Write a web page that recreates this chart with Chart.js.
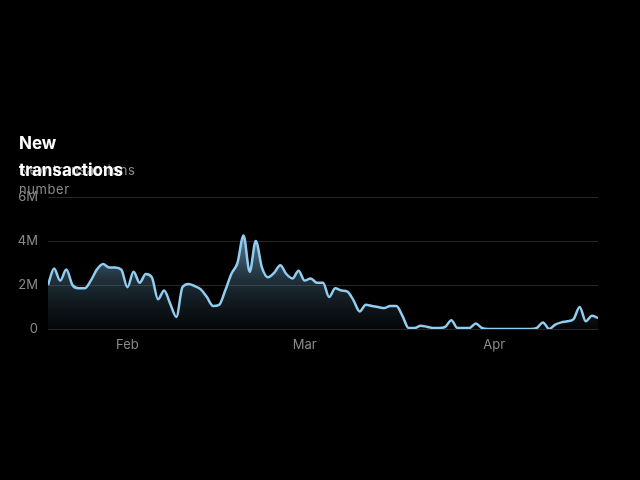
<!DOCTYPE html>
<html>
<head>
<meta charset="utf-8">
<script src="https://cdn.jsdelivr.net/npm/chart.js@4"></script>
<style>
  html, body { margin: 0; padding: 0; background: #000; }
  #wrap { position: relative; width: 640px; height: 480px; }
  #chart { position: absolute; left: 0; top: 0; }
  .title {
    position: absolute; left: 19px; top: 130px;
    font-family: Inter, "Noto Sans", sans-serif; font-weight: 700;
    font-size: 17px; line-height: 27px; color: #fff; z-index: 2;
  }
  .subtitle {
    position: absolute; left: 19px; top: 161px;
    font-family: Inter, "Noto Sans", sans-serif; font-size: 13px;
    line-height: 19px; color: #8a8a8a; letter-spacing: 0.6px; z-index: 1;
  }
</style>
</head>
<body>
<div id="wrap">
  <canvas id="chart" width="640" height="480"></canvas>
  <div class="title">New<br>transactions</div>
  <div class="subtitle">New transactions<br>number</div>
</div>
<script>
// day index 0 = Jan 19, one value per day up to Apr 18 (millions)
const dailyValues = [
  2.0, 2.75, 2.2, 2.7, 2.0, 1.85, 1.85, 2.2, 2.7, 2.95,
  2.8, 2.8, 2.7, 1.9, 2.6, 2.1, 2.5, 2.35, 1.35, 1.75,
  1.15, 0.55, 1.9, 2.05, 1.95, 1.8, 1.45, 1.05, 1.1, 1.75,
  2.5, 3.0, 4.25, 2.6, 4.0, 2.8, 2.35, 2.55, 2.9, 2.5,
  2.3, 2.65, 2.2, 2.3, 2.1, 2.1, 1.45, 1.85, 1.75, 1.7,
  1.3, 0.8, 1.1, 1.05, 1.0, 0.95, 1.05, 1.05, 0.6, 0.05,
  0.05, 0.15, 0.1, 0.05, 0.05, 0.1, 0.4, 0.05, 0.05, 0.05,
  0.25, 0.05, 0, 0, 0, 0, 0, 0, 0, 0,
  0.05, 0.3, 0, 0.2, 0.3, 0.35, 0.45, 1.0, 0.35, 0.6,
  0.5
];
const monthLabels = ['Feb', 'Mar', 'Apr'];
const monthTickDays = [13, 42, 73];
const yTicks = [0, 2e6, 4e6, 6e6];

const points = dailyValues.map(function(v, i) {
  return { x: i, y: v * 1e6 };
});

function fillGradient(context) {
  const area = context.chart.chartArea;
  if (!area) return 'rgba(0,0,0,0)';
  const g = context.chart.ctx.createLinearGradient(0, area.top, 0, area.bottom);
  g.addColorStop(0, 'rgba(150, 210, 250, 1)');
  g.addColorStop(0.3, 'rgba(125, 180, 215, 0.7)');
  g.addColorStop(0.6, 'rgba(100, 150, 180, 0.35)');
  g.addColorStop(1, 'rgba(60, 90, 110, 0.08)');
  return g;
}

const ctx = document.getElementById('chart').getContext('2d');
new Chart(ctx, {
  type: 'line',
  data: {
    datasets: [{
      data: points,
      borderColor: '#90cdf0',
      borderWidth: 2.5,
      backgroundColor: fillGradient,
      fill: 'origin',
      pointRadius: 0,
      cubicInterpolationMode: 'monotone'
    }]
  },
  options: {
    responsive: false,
    animation: false,
    layout: { padding: { left: 14, right: 42, top: 197, bottom: 121 } },
    plugins: {
      legend: { display: false },
      tooltip: { enabled: false }
    },
    scales: {
      x: {
        type: 'linear',
        min: 0,
        max: dailyValues.length - 1,
        afterBuildTicks: function(scale) {
          scale.ticks = monthTickDays.map(function(d) { return { value: d }; });
        },
        afterFit: function(scale) { scale.height = 30; },
        ticks: {
          color: '#8a8a8a',
          font: { family: 'Inter', size: 13 },
          padding: 0,
          maxRotation: 0,
          autoSkip: false,
          callback: function(value) {
            const k = monthTickDays.indexOf(value);
            return k >= 0 ? monthLabels[k] : '';
          }
        },
        grid: { display: false },
        border: { display: false }
      },
      y: {
        min: 0,
        max: 6e6,
        afterBuildTicks: function(scale) {
          scale.ticks = yTicks.map(function(v) { return { value: v }; });
        },
        afterFit: function(scale) { scale.width = 34; },
        ticks: {
          color: '#8a8a8a',
          font: { family: 'Inter', size: 13 },
          padding: 10,
          callback: function(value) {
            return value === 0 ? '0' : (value / 1e6) + 'M';
          }
        },
        grid: { color: '#262626', lineWidth: 1, drawTicks: false },
        border: { display: false }
      }
    }
  }
});
</script>
</body>
</html>
